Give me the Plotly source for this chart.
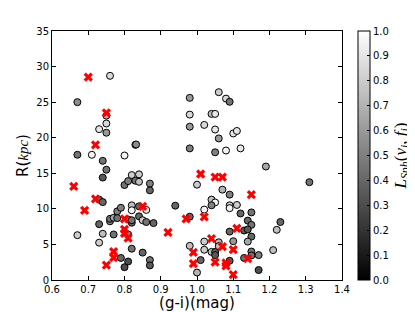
import plotly.graph_objects as go

# Circles: colour (g-i), radius R, L_Sph value
circ_x = [0.76, 0.67, 0.75, 0.75, 0.73, 0.75, 0.83, 0.832, 0.67, 0.71, 0.80, 0.74, 0.75, 0.74,
          0.98, 0.98, 0.98, 0.98, 1.02, 1.04, 1.05, 1.06, 1.08, 1.09, 1.05, 1.06, 1.10, 1.11,
          1.05, 1.08, 1.12,
          0.82, 0.84, 0.80, 0.81, 0.83, 0.84, 0.87, 0.87, 0.73, 0.74, 0.82, 0.82, 0.86, 0.84,
          0.78, 0.79, 0.76, 0.76, 0.77, 0.78, 0.81, 0.82, 0.82, 0.84, 0.85, 0.86, 0.88, 0.73,
          0.67, 0.74, 0.73, 0.77, 0.81, 0.82, 0.85, 0.79, 0.80, 0.81, 0.87, 0.87,
          0.94, 0.98, 0.98, 1.00, 1.01, 1.00, 1.02, 1.02, 1.02, 1.04, 1.05, 1.05, 1.07, 1.09,
          1.04, 1.05, 1.04, 1.09, 1.09, 1.11, 1.12, 1.15, 1.14, 1.15, 1.13, 1.14, 1.15, 1.14,
          1.23, 1.22, 1.09, 1.06, 1.10, 1.06, 1.21, 1.15, 1.15, 1.17, 1.13, 1.09, 1.17, 1.19,
          1.31]
circ_r = [28.7, 25.0, 23.1, 22.0, 21.2, 20.7, 19.0, 19.05, 17.6, 17.6, 17.5, 16.75, 15.5, 14.4,
          25.6, 23.25, 21.55, 18.5, 21.8, 23.35, 23.35, 26.4, 25.5, 25.05, 21.15, 19.9, 20.6, 20.95,
          17.95, 18.2, 18.5,
          14.75, 14.85, 13.35, 13.9, 13.95, 13.8, 13.55, 12.6, 11.3, 10.95, 10.5, 9.8, 9.85, 10.35,
          9.65, 10.15, 8.25, 8.6, 8.75, 8.7, 8.5, 8.05, 8.4, 8.95, 8.4, 8.15, 8.0, 7.85,
          6.3, 6.5, 5.25, 6.4, 6.4, 4.4, 3.85, 3.1, 1.8, 2.6, 2.8, 2.05,
          10.45, 8.9, 4.8, 1.05, 2.8, 13.4, 9.9, 5.4, 4.25, 3.95, 3.95, 3.5, 12.7, 12.0,
          11.3, 10.9, 10.5, 10.5, 10.1, 10.55, 9.35, 9.5, 8.35, 7.75, 6.95, 7.1, 6.1, 5.4,
          8.15, 7.05, 6.8, 5.3, 5.45, 4.75, 4.2, 4.0, 3.45, 3.5, 3.1, 2.7, 1.4, 15.95,
          13.75]
circ_l = [0.85, 0.55, 0.7, 0.85, 0.9, 0.6, 0.5, 0.55, 0.45, 0.95, 0.95, 0.45, 0.45, 0.35,
          0.6, 0.85, 0.6, 0.5, 0.85, 0.75, 0.9, 0.8, 0.85, 0.45, 0.9, 0.6, 0.9, 0.9,
          0.5, 0.95, 0.9,
          0.8, 0.8, 0.45, 0.5, 0.45, 0.75, 0.5, 0.4, 0.4, 0.4, 0.75, 0.95, 0.95, 0.4,
          0.5, 0.5, 0.5, 0.45, 0.65, 0.45, 0.45, 0.4, 0.45, 0.4, 0.8, 0.45, 0.4, 0.4,
          0.8, 0.75, 0.8, 0.45, 0.5, 0.45, 0.4, 0.4, 0.3, 0.3, 0.45, 0.35,
          0.4, 0.4, 0.75, 0.7, 0.4, 0.8, 0.95, 0.8, 0.8, 0.75, 0.35, 0.35, 0.7, 0.5,
          0.75, 0.95, 0.5, 0.8, 0.95, 0.8, 0.4, 0.45, 0.4, 0.45, 0.35, 0.35, 0.4, 0.65,
          0.4, 0.75, 0.4, 0.7, 0.6, 0.75, 0.75, 0.45, 0.45, 0.5, 0.45, 0.35, 0.3, 0.65,
          0.45]

# Highlighted (red X) objects
red_x = [0.70, 0.75, 0.72, 0.66, 0.72, 0.69, 0.85, 0.80, 0.80, 0.80, 0.81, 0.77, 0.77, 0.75,
         0.92, 0.97, 0.99, 0.99, 1.01, 1.02, 1.05, 1.07, 1.15, 1.11, 1.04, 1.07, 1.10, 1.14,
         1.05, 1.08, 1.08, 1.10]
red_r = [28.5, 23.5, 19.0, 13.15, 11.4, 9.8, 10.35, 8.6, 7.1, 6.55, 5.87, 4.0, 3.15, 2.1,
         6.7, 8.6, 3.87, 2.3, 14.9, 8.88, 14.45, 14.45, 12.0, 7.25, 5.8, 4.7, 4.27, 3.0,
         2.5, 2.4, 2.0, 0.75]

x_ticks = [0.6, 0.7, 0.8, 0.9, 1.0, 1.1, 1.2, 1.3, 1.4]
x_tick_labels = ["0.6", "0.7", "0.8", "0.9", "1.0", "1.1", "1.2", "1.3", "1.4"]
y_ticks = [0, 5, 10, 15, 20, 25, 30, 35]
cb_ticks = [0.0, 0.1, 0.2, 0.3, 0.4, 0.5, 0.6, 0.7, 0.8, 0.9, 1.0]

FONT = "DejaVu Sans"
SERIF = "Liberation Serif"

fig = go.Figure()
fig.add_trace(go.Scatter(
    x=circ_x, y=circ_r, mode="markers",
    marker=dict(
        size=7, color=circ_l, cmin=0, cmax=1,
        colorscale=[[0, "black"], [1, "white"]],
        line=dict(color="black", width=1),
        colorbar=dict(
            x=1.055, xanchor="left", xpad=0, y=0.5, yanchor="middle", ypad=0,
            len=1.0, lenmode="fraction", thickness=12,
            outlinecolor="black", outlinewidth=1,
            tickvals=cb_ticks, ticktext=[f"{v:.1f}" for v in cb_ticks],
            ticks="inside", ticklen=3, tickcolor="black",
            tickfont=dict(family=FONT, size=10, color="black"),
            title=dict(text="<i>L</i><sub><i>Sph</i></sub>(<i>v</i><sub><i>i</i></sub>, <i>f</i><sub><i>i</i></sub>)",
                       side="right", font=dict(family=SERIF, size=17, color="black")),
        ),
    ),
    showlegend=False,
))
fig.add_trace(go.Scatter(
    x=red_x, y=red_r, mode="markers",
    marker=dict(symbol="x-thin", size=7, color="red", line=dict(color="red", width=3.2)),
    showlegend=False,
))

axis_common = dict(
    showgrid=False, zeroline=False, showline=True, linecolor="black", linewidth=1,
    mirror="ticks", ticks="inside", ticklen=4, tickcolor="black",
    tickfont=dict(family=FONT, size=10, color="black"),
)
fig.update_layout(
    width=407, height=304,
    margin=dict(l=44, r=73, t=23, b=32, autoexpand=False),
    paper_bgcolor="white", plot_bgcolor="white",
    xaxis=dict(range=[0.6, 1.4], tickvals=x_ticks, ticktext=x_tick_labels,
               title=dict(text="(g-i)(mag)", font=dict(family=FONT, size=15, color="black"), standoff=2),
               **axis_common),
    yaxis=dict(range=[0, 35], tickvals=y_ticks,
               title=dict(text="R(<span style='font-family:Liberation Serif'><i>kpc</i></span>)",
                          font=dict(family=FONT, size=15, color="black"), standoff=4),
               **axis_common),
)
fig.write_html("out.html")
